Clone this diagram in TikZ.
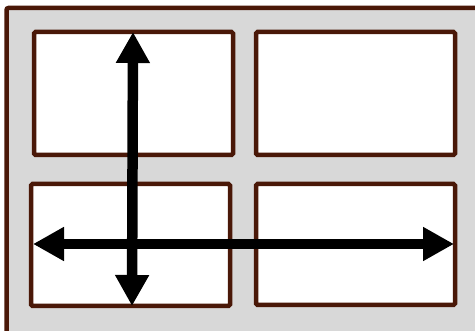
\documentclass[tikz,border=0pt]{standalone}
\usetikzlibrary{arrows.meta}
\definecolor{framebrown}{RGB}{74,24,8}
\definecolor{panelgray}{RGB}{216,216,216}
\tikzset{
  outerframe/.style={draw=framebrown, line width=4.5pt, fill=panelgray, rounded corners=2pt},
  panel/.style={draw=framebrown, line width=4.5pt, fill=white, rounded corners=1.5pt},
  bigarrow/.style={line width=10.5pt, {Triangle[length=31pt,width=32pt]}-{Triangle[length=31pt,width=32pt]}}
}
\begin{document}
\begin{tikzpicture}[x=1pt,y=-1pt]
\useasboundingbox (0,0) rectangle (475,331);
\clip (0,0) rectangle (475,331);
\draw[outerframe] (6.5,8) rectangle (520,360);
\draw[panel] (34,32) rectangle (233,155);
\draw[panel] (256,32) rectangle (455,155);
\draw[panel] (31,184) rectangle (230,306);
\draw[panel] (256,184) rectangle (455,305);
\coordinate (vtop) at (133,32);
\coordinate (vbot) at (132,306);
\coordinate (hleft) at (33,244);
\coordinate (hright) at (454,244);
\draw[bigarrow] (vtop) -- (vbot);
\draw[bigarrow] (hleft) -- (hright);
\end{tikzpicture}
\end{document}
